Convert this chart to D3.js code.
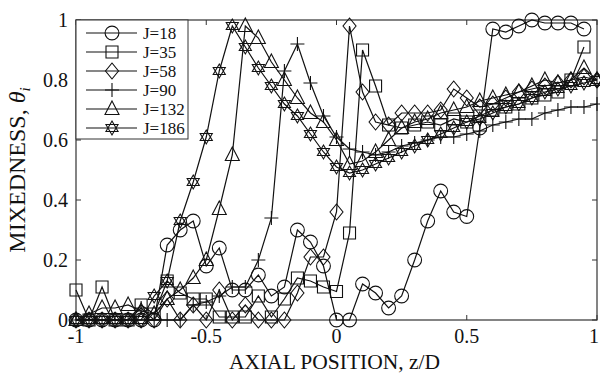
<!DOCTYPE html>
<html>
<head>
<meta charset="utf-8">
<script src="https://cdn.jsdelivr.net/npm/d3@7"></script>
<style>
  body { margin: 0; background: #fff; }
  text { font-family: "Liberation Serif", "DejaVu Serif", serif; fill: #111; }
</style>
</head>
<body>
<div id="chart"></div>
<script>
// axial positions z/D (shared grid)
const zPos = [-1, -0.95, -0.9, -0.85, -0.8, -0.75, -0.7, -0.65, -0.6, -0.55, -0.5,
  -0.45, -0.4, -0.35, -0.3, -0.25, -0.2, -0.15, -0.1, -0.05, 0,
  0.05, 0.1, 0.15, 0.2, 0.25, 0.3, 0.35, 0.4, 0.45, 0.5,
  0.55, 0.6, 0.65, 0.7, 0.75, 0.8, 0.85, 0.9, 0.95, 1];

const j18 = [0, 0, 0, 0, 0, 0, 0, 0.25, 0.30, 0.33, 0.18,
  0.24, 0.10, 0.10, 0.15, 0.08, 0.11, 0.30, 0.26, 0.18, 0,
  0, 0.12, 0.09, 0.04, 0.08, 0.20, 0.33, 0.43, 0.36, 0.345,
  0.64, 0.97, 0.96, 0.98, 1.0, 0.99, 0.99, 0.99, 0.97, null];
const j35 = [0.10, 0, 0.11, 0, 0, 0.05, 0.02, 0.13, 0.09, 0.07, 0.07,
  0.01, 0.01, 0.01, 0.08, 0.01, 0.07, 0.14, 0.13, 0.11, 0.095,
  0.29, 0.90, 0.78, 0.65, 0.64, 0.65, 0.66, 0.65, 0.67, 0.66,
  0.68, 0.70, 0.71, 0.72, 0.74, 0.75, 0.76, 0.80, 0.91, null];
const j58 = [0, 0, 0, 0, 0, 0, 0, 0.07, 0, 0.05, 0,
  0.10, 0, 0.05, 0, 0, 0, 0.09, 0.21, 0.21, 0.36,
  0.98, 0.76, 0.66, 0.65, 0.69, 0.69, 0.69, 0.70, 0.77, 0.74,
  0.71, 0.72, 0.74, 0.76, 0.77, 0.78, 0.79, 0.80, 0.81, 0.80];
const j90 = [0, 0, 0, 0, 0, 0.04, 0, 0, 0, 0.05, 0.06,
  0.08, 0.11, 0.11, 0.20, 0.34, 0.83, 0.92, 0.79, 0.68, 0.61,
  0.57, 0.56, 0.55, 0.56, 0.58, 0.59, 0.60, 0.61, 0.61, 0.62,
  0.63, 0.65, 0.66, 0.67, 0.67, 0.69, 0.70, 0.71, 0.71, 0.72];
const j132 = [0, 0.02, 0.04, 0.04, 0.05, 0.03, 0.02, 0.07, 0.10, 0.14, 0.20,
  0.37, 0.55, 0.98, 0.94, 0.86, 0.80, 0.74, 0.69, 0.66, 0.60,
  0.52, 0.53, 0.56, 0.60, 0.64, 0.66, 0.67, 0.69, 0.70, 0.71,
  0.73, 0.74, 0.75, 0.76, 0.78, 0.80, 0.79, 0.80, 0.84, 0.80];
const j186 = [0, 0, 0, 0, 0, 0, 0.08, 0.13, 0.33, 0.46, 0.61,
  0.83, 0.98, 0.91, 0.84, 0.78, 0.72, 0.68, 0.62, 0.56, 0.51,
  0.49, 0.50, 0.52, 0.54, 0.56, 0.58, 0.60, 0.62, 0.64, 0.66,
  0.67, 0.69, 0.71, 0.72, 0.74, 0.76, 0.77, 0.78, 0.79, 0.80];

const seriesNames = ['J=18', 'J=35', 'J=58', 'J=90', 'J=132', 'J=186'];
const seriesValues = [j18, j35, j58, j90, j132, j186];
const seriesMarkers = ['circle', 'square', 'diamond', 'plus', 'triangle', 'star'];

const xTicks = [-1, -0.5, 0, 0.5, 1];
const yTicks = [0, 0.2, 0.4, 0.6, 0.8, 1];

const width = 600, height = 374;
const margin = { top: 20, right: 3, bottom: 54, left: 76 };
const plotW = width - margin.left - margin.right;
const plotH = height - margin.top - margin.bottom;

const svg = d3.select('#chart').append('svg')
  .attr('width', width).attr('height', height);

const x = d3.scaleLinear().domain([-1, 1]).range([margin.left, margin.left + plotW]);
const y = d3.scaleLinear().domain([0, 1]).range([margin.top + plotH, margin.top]);

// marker paths, hollow
function markerPath(type) {
  switch (type) {
    case 'circle': return d3.symbol(d3.symbolCircle, 150)();
    case 'square': return 'M-6,-6H6V6H-6Z';
    case 'diamond': return 'M0,-8L6.5,0L0,8L-6.5,0Z';
    case 'plus': return 'M-7,0H7M0,-7V7';
    case 'triangle': return 'M0,-8L7,5.5H-7Z';
    case 'star': {
      const r = 7;
      const a = d3.range(3).map(i => [r * Math.sin(i * 2 * Math.PI / 3), -r * Math.cos(i * 2 * Math.PI / 3)]);
      const b = d3.range(3).map(i => [r * Math.sin(Math.PI / 3 + i * 2 * Math.PI / 3), -r * Math.cos(Math.PI / 3 + i * 2 * Math.PI / 3)]);
      return 'M' + a.join('L') + 'Z' + 'M' + b.join('L') + 'Z';
    }
  }
}

// axes box
svg.append('rect')
  .attr('x', margin.left).attr('y', margin.top)
  .attr('width', plotW).attr('height', plotH)
  .attr('fill', 'none').attr('stroke', '#333').attr('stroke-width', 1.2);

const tickLen = 5;
const ticks = svg.append('g').attr('stroke', '#333').attr('stroke-width', 1);
xTicks.forEach(t => {
  ticks.append('line').attr('x1', x(t)).attr('x2', x(t)).attr('y1', y(0)).attr('y2', y(0) - tickLen);
  ticks.append('line').attr('x1', x(t)).attr('x2', x(t)).attr('y1', y(1)).attr('y2', y(1) + tickLen);
});
yTicks.forEach(t => {
  ticks.append('line').attr('x1', x(-1)).attr('x2', x(-1) + tickLen).attr('y1', y(t)).attr('y2', y(t));
  ticks.append('line').attr('x1', x(1)).attr('x2', x(1) - tickLen).attr('y1', y(t)).attr('y2', y(t));
});

svg.append('g').selectAll('text').data(xTicks).enter().append('text')
  .attr('x', d => x(d) === x(1) ? x(d) - 3 : x(d)).attr('y', y(0) + 23)
  .attr('text-anchor', 'middle').attr('font-size', 20)
  .text(d => d3.format('')(d).replace('−', '-'));

svg.append('g').selectAll('text').data(yTicks).enter().append('text')
  .attr('x', margin.left - 8).attr('y', d => y(d) + 7)
  .attr('text-anchor', 'end').attr('font-size', 20)
  .text(d => d3.format('')(d));

svg.append('text')
  .attr('x', margin.left + plotW / 2 - 2).attr('y', 369)
  .attr('text-anchor', 'middle').attr('font-size', 21.5)
  .text('AXIAL POSITION, z/D');

const yLab = svg.append('text')
  .attr('transform', `translate(25, ${margin.top + plotH / 2}) rotate(-90)`)
  .attr('text-anchor', 'middle').attr('font-size', 24);
yLab.append('tspan').text('MIXEDNESS, ');
yLab.append('tspan').attr('font-style', 'italic').text('θ');
yLab.append('tspan').attr('font-style', 'italic').attr('font-size', 15).attr('dy', 5).text('i');

// series
const line = d3.line()
  .defined(d => d[1] !== null)
  .x(d => x(d[0])).y(d => y(d[1]));

seriesValues.forEach((vals, i) => {
  const pts = zPos.map((z, k) => [z, vals[k]]);
  const g = svg.append('g');
  g.append('path').datum(pts)
    .attr('d', line)
    .attr('fill', 'none').attr('stroke', '#111').attr('stroke-width', 1.2);
  g.selectAll('path.m').data(pts.filter(p => p[1] !== null)).enter().append('path')
    .attr('class', 'm')
    .attr('transform', p => `translate(${x(p[0])},${y(p[1])})`)
    .attr('d', markerPath(seriesMarkers[i]))
    .attr('fill', 'none').attr('stroke', '#111').attr('stroke-width', 1.1);
});

// legend
const legend = svg.append('g');
legend.append('rect')
  .attr('x', margin.left).attr('y', margin.top)
  .attr('width', 112).attr('height', 119)
  .attr('fill', '#fff').attr('stroke', '#333').attr('stroke-width', 1);
seriesNames.forEach((name, i) => {
  const ly = 33 + i * 19;
  legend.append('line').attr('x1', 86).attr('x2', 137).attr('y1', ly).attr('y2', ly)
    .attr('stroke', '#111').attr('stroke-width', 1.2);
  legend.append('path').attr('transform', `translate(112,${ly})`)
    .attr('d', markerPath(seriesMarkers[i]))
    .attr('fill', 'none').attr('stroke', '#111').attr('stroke-width', 1.1);
  legend.append('text').attr('x', 143).attr('y', ly + 6)
    .attr('font-size', 17).text(name);
});
</script>
</body>
</html>
